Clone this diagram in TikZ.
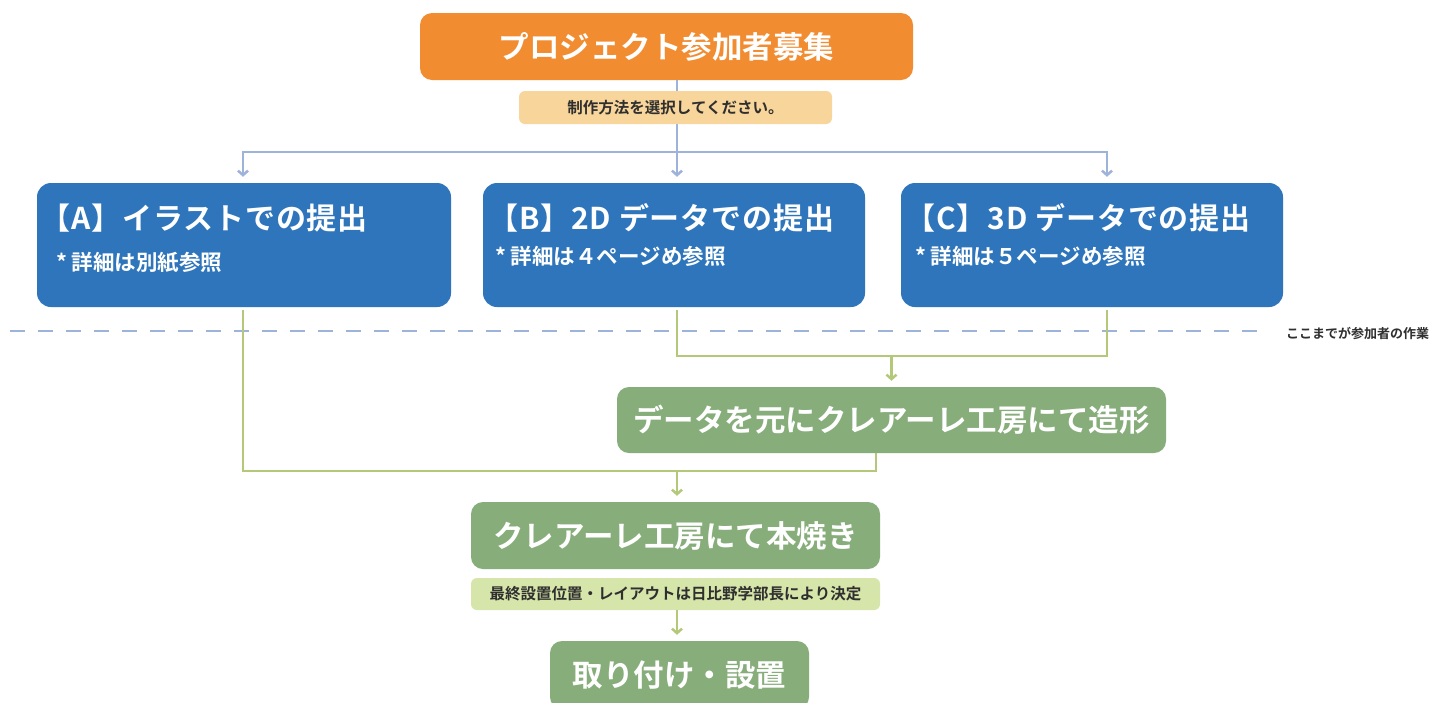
\documentclass[tikz,border=0pt]{standalone}
\usepackage{fontspec}
\setmainfont{Noto Sans CJK JP}[BoldFont={Noto Sans CJK JP Bold}]
\newfontfamily\jpb{Noto Sans CJK JP Bold}
\newfontfamily\jpbls{Noto Sans CJK JP Bold}[LetterSpace=3]
\usetikzlibrary{arrows.meta}
\definecolor{orangebox}{HTML}{F28C31}
\definecolor{tanbox}{HTML}{F8D59A}
\definecolor{bluebox}{HTML}{2E75BB}
\definecolor{blueline}{HTML}{9EB3DA}
\definecolor{greenbox}{HTML}{87AD7B}
\definecolor{greenline}{HTML}{B4C87A}
\definecolor{lightgreen}{HTML}{D6E5A9}
\definecolor{darktext}{HTML}{2F2F2F}
\tikzset{
  box/.style={rounded corners=12pt, inner sep=0pt, text=white},
  obox/.style={box, fill=orangebox},
  bbox/.style={box, fill=bluebox, rounded corners=14pt},
  gbox/.style={box, fill=greenbox},
  notebox/.style={rounded corners=6pt, inner sep=0pt, text=darktext},
  bigtext/.style={font=\jpb\fontsize{30.5}{36}\selectfont},
  titletext/.style={inner sep=0pt, anchor=west, text=white, font=\jpbls\fontsize{30}{35}\selectfont},
  subtext/.style={inner sep=0pt, anchor=west, text=white, font=\jpb\fontsize{21.5}{25}\selectfont},
  smalltext/.style={font=\jpb\fontsize{15.5}{19}\selectfont},
  bl/.style={draw=blueline, line width=2.5pt},
  gl/.style={draw=greenline, line width=2.5pt},
  arr/.style={-{Straight Barb[length=4.5pt,width=10pt]}, shorten >=6pt},
}
\begin{document}
\begin{tikzpicture}[x=1pt,y=-1pt]
\useasboundingbox (0,0) rectangle (1437,702);
\clip (0,0) rectangle (1437,702);
\fill[white] (0,0) rectangle (1437,702);

% top box
\node[obox, bigtext, minimum width=493pt, minimum height=67pt] (top) at (666.5,46.5) {プロジェクト参加者募集};
\coordinate (split) at (677,152);
\draw[bl] (split |- top.south) -- (split);
\node[notebox, fill=tanbox, smalltext, minimum width=313pt, minimum height=33pt] (sel) at (675.5,107.5) {制作方法を選択してください。};

% blue boxes
\node[bbox, minimum width=414pt, minimum height=124pt] (A) at (244,245) {};
\node[bbox, minimum width=382pt, minimum height=124pt] (B) at (674,245) {};
\node[bbox, minimum width=382pt, minimum height=124pt] (C) at (1092,245) {};
\node[titletext] (At) at (40,218) {【A】イラストでの提出};
\node[subtext] (As) at (56,263) {* 詳細は別紙参照};
\node[titletext] (Bt) at (488,218) {【B】2D データでの提出};
\node[subtext] (Bs) at (495,256) {* 詳細は４ページめ参照};
\node[titletext] (Ct) at (905,218) {【C】3D データでの提出};
\node[subtext] (Cs) at (915,256) {* 詳細は５ページめ参照};

\draw[bl, arr] (split) -| ([xshift=-1pt]A.north);
\draw[bl, arr] (split) -- (split |- B.north);
\draw[bl, arr] (split) -| ([xshift=15pt]C.north);

% dashed separator
\coordinate (dl1) at (10,331);
\coordinate (dl2) at (1268,331);
\draw[draw=blueline, line width=2.5pt, dash pattern=on 15pt off 13pt] (dl1) -- (dl2);
\node[anchor=west, inner sep=0pt, text=darktext, font=\jpb\fontsize{13}{16}\selectfont] (sep) at (1286,333) {ここまでが参加者の作業};

% green boxes
\node[gbox, bigtext, minimum width=549pt, minimum height=66pt] (D) at (891.5,420) {データを元にクレアーレ工房にて造形};
\node[gbox, bigtext, minimum width=409pt, minimum height=67pt] (E) at (675.5,535.5) {クレアーレ工房にて本焼き};
\node[notebox, fill=lightgreen, smalltext, minimum width=409pt, minimum height=32pt] (F) at (675.5,594) {最終設置位置・レイアウトは日比野学部長により決定};
\node[gbox, bigtext, minimum width=259pt, minimum height=68pt] (G) at (679.5,675) {取り付け・設置};

% green connectors
\coordinate (bB) at ([xshift=3pt,yshift=-3pt]B.south);
\coordinate (bC) at ([xshift=15pt,yshift=-3pt]C.south);
\coordinate (m1) at (891.5,356);
\draw[gl] (bB) |- (m1) -| (bC);
\draw[gl, arr] (m1) -- (D.north);

\coordinate (aA) at ([xshift=-1pt,yshift=-3pt]A.south);
\coordinate (dD) at ([xshift=-15.5pt]D.south);
\coordinate (m2) at (677,471);
\draw[gl] (dD) |- (aA |- m2) -- (aA);
\draw[gl, arr] (m2) -- (m2 |- E.north);

\coordinate (fb) at (677,610);
\draw[gl, arr] (fb) -- (fb |- G.north);
\end{tikzpicture}
\end{document}
